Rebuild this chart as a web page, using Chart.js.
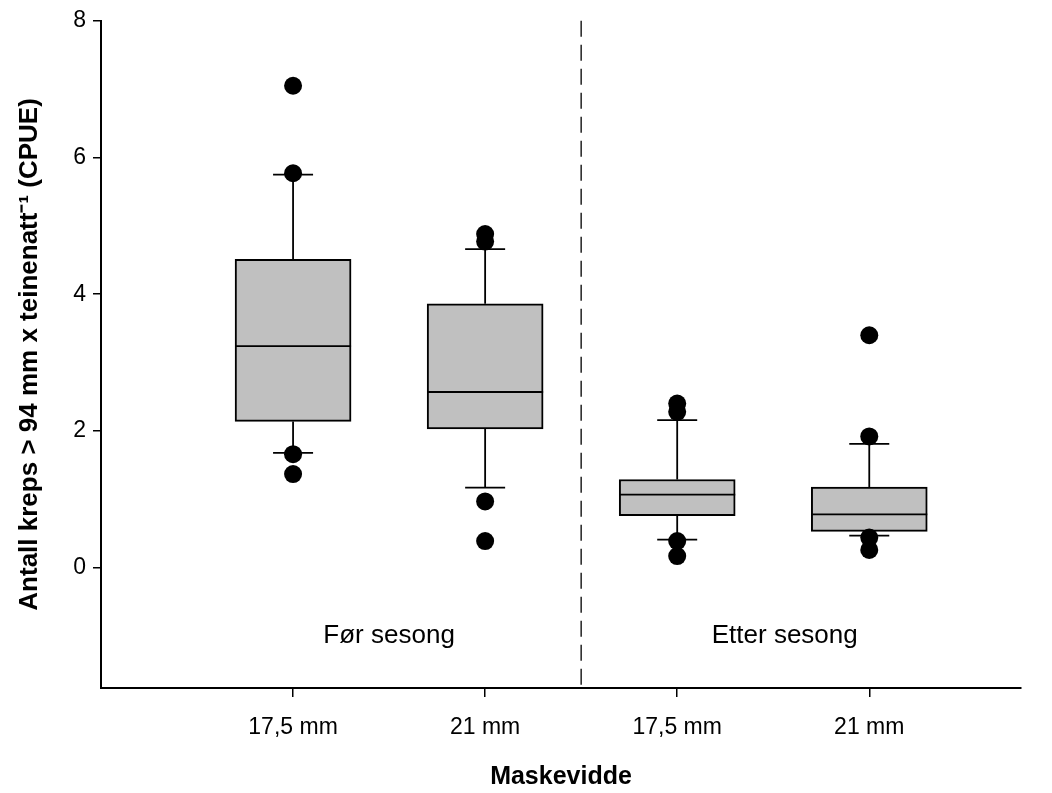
<!DOCTYPE html>
<html>
<head>
<meta charset="utf-8">
<script src="https://cdn.jsdelivr.net/npm/chart.js@4"></script>
<style>
  html, body { margin: 0; padding: 0; background: #fff; }
</style>
</head>
<body>
<canvas id="boxChart" width="1052" height="793"></canvas>
<script>
// Box plot values (CPUE per category)
const categories = ['17,5 mm', '21 mm', '17,5 mm', '21 mm'];
const q1 = [2.14, 2.03, 0.76, 0.53];
const medians = [3.24, 2.57, 1.07, 0.78];
const q3 = [4.51, 3.86, 1.29, 1.18];
const whiskerLow = [1.68, 1.17, 0.41, 0.47];
const whiskerHigh = [5.75, 4.66, 2.16, 1.81];
const outliers = [
    [7.05, 5.77, 1.66, 1.37],
    [4.88, 4.77, 0.97, 0.39],
    [2.40, 2.28, 0.39, 0.17],
    [3.40, 1.92, 0.44, 0.26]
];
const yTicks = [0, 2, 4, 6, 8];
const groupLabels = ['Før sesong', 'Etter sesong'];
const groupLabelX = [1.5, 3.56];
const groupLabelY = -1.0;
const separatorX = 2.5;

Chart.defaults.font.family = '"Liberation Sans", Arial, sans-serif';
Chart.defaults.color = '#000';

// whiskers, caps and medians, drawn right after the boxes
const boxExtras = {
    id: 'boxExtras',
    afterDatasetDraw(chart, args) {
        if (args.index !== 0) return;
        const { ctx, scales: { y } } = chart;
        const bars = chart.getDatasetMeta(0).data;
        const capHalf = 20;
        ctx.save();
        ctx.strokeStyle = '#000';
        ctx.lineWidth = 1.8;
        bars.forEach((bar, i) => {
            const cx = bar.x;
            const half = bar.width / 2;
            ctx.beginPath();
            // upper whisker + cap
            ctx.moveTo(cx, y.getPixelForValue(q3[i]));
            ctx.lineTo(cx, y.getPixelForValue(whiskerHigh[i]));
            ctx.moveTo(cx - capHalf, y.getPixelForValue(whiskerHigh[i]));
            ctx.lineTo(cx + capHalf, y.getPixelForValue(whiskerHigh[i]));
            // lower whisker + cap
            ctx.moveTo(cx, y.getPixelForValue(q1[i]));
            ctx.lineTo(cx, y.getPixelForValue(whiskerLow[i]));
            ctx.moveTo(cx - capHalf, y.getPixelForValue(whiskerLow[i]));
            ctx.lineTo(cx + capHalf, y.getPixelForValue(whiskerLow[i]));
            // median
            ctx.moveTo(cx - half, y.getPixelForValue(medians[i]));
            ctx.lineTo(cx + half, y.getPixelForValue(medians[i]));
            ctx.stroke();
        });
        ctx.restore();
    }
};

// dashed separator and group labels
const groupDecor = {
    id: 'groupDecor',
    beforeDatasetsDraw(chart) {
        const { ctx, chartArea, scales: { x, y } } = chart;
        ctx.save();
        ctx.strokeStyle = '#222';
        ctx.lineWidth = 1.5;
        ctx.setLineDash([16, 8]);
        const sx = x.getPixelForValue(separatorX);
        ctx.beginPath();
        ctx.moveTo(sx, chartArea.top);
        ctx.lineTo(sx, chartArea.bottom);
        ctx.stroke();
        ctx.setLineDash([]);
        ctx.fillStyle = '#000';
        ctx.font = '26px "Liberation Sans", Arial, sans-serif';
        ctx.textAlign = 'center';
        ctx.textBaseline = 'middle';
        groupLabels.forEach((lbl, i) => {
            ctx.fillText(lbl, x.getPixelForValue(groupLabelX[i]), y.getPixelForValue(groupLabelY));
        });
        ctx.restore();
    }
};

const ctx = document.getElementById('boxChart').getContext('2d');
new Chart(ctx, {
    type: 'bar',
    data: {
        datasets: [{
            label: 'Boxes',
            data: categories.map((c, i) => ({ x: i + 1, y: [q1[i], q3[i]] })),
            backgroundColor: '#c0c0c0',
            borderColor: '#000',
            borderWidth: 2,
            borderSkipped: false,
            barThickness: 116,
            grouped: false,
            order: 2
        }, {
            type: 'scatter',
            label: 'Outliers',
            data: outliers.flatMap((vals, i) => vals.map(v => ({ x: i + 1, y: v }))),
            backgroundColor: '#000',
            borderColor: '#000',
            borderWidth: 0,
            pointRadius: 9,
            order: 1
        }]
    },
    options: {
        responsive: false,
        animation: false,
        layout: { padding: { top: 17, right: 31, left: 0, bottom: 0 } },
        plugins: { legend: { display: false }, tooltip: { enabled: false } },
        scales: {
            x: {
                type: 'linear',
                min: 0,
                max: 4.79,
                offset: false,
                afterBuildTicks: s => { s.ticks = categories.map((c, i) => ({ value: i + 1 })); },
                afterFit: s => { s.height = 105; },
                grid: { offset: false, drawOnChartArea: false, tickLength: 9, color: '#000', lineWidth: 1.5 },
                border: { display: true, color: '#000', width: 2 },
                ticks: {
                    callback: (v, idx) => categories[idx],
                    font: { size: 23 },
                    padding: 17,
                    maxRotation: 0,
                    autoSkip: false
                },
                title: {
                    display: true,
                    text: 'Maskevidde',
                    font: { size: 25, weight: 'bold' },
                    padding: { top: 0, bottom: 1 }
                }
            },
            y: {
                min: -1.76,
                max: 8,
                afterBuildTicks: s => { s.ticks = yTicks.map(v => ({ value: v })); },
                afterFit: s => { s.width = 101; },
                grid: { drawOnChartArea: false, tickLength: 8, color: '#000', lineWidth: 1.5 },
                border: { display: true, color: '#000', width: 2 },
                ticks: { font: { size: 23 }, padding: 7 },
                title: {
                    display: true,
                    text: 'Antall kreps > 94 mm x teinenatt⁻¹ (CPUE)',
                    font: { size: 26, weight: 'bold' },
                    padding: { top: 14, bottom: 0 }
                }
            }
        }
    },
    plugins: [boxExtras, groupDecor]
});
</script>
</body>
</html>
